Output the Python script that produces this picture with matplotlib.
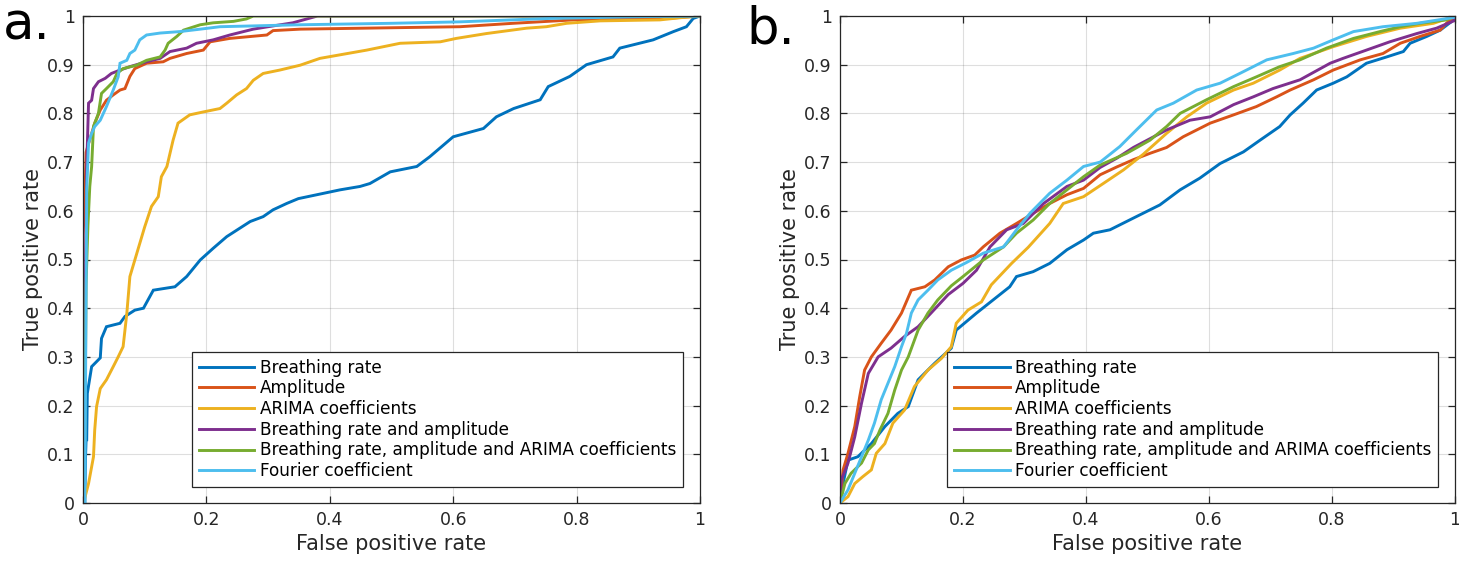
import matplotlib
matplotlib.use("Agg")
import matplotlib.pyplot as plt
from matplotlib.ticker import FuncFormatter

LABELS = [
    "Breathing rate",
    "Amplitude",
    "ARIMA coefficients",
    "Breathing rate and amplitude",
    "Breathing rate, amplitude and ARIMA coefficients",
    "Fourier coefficient",
]
COLORS = ["#0072BD", "#D95319", "#EDB120", "#7E2F8E", "#77AC30", "#4DBEEE"]

# panel a: (fpr, tpr)
a_br_x = [0, 0.003, 0.004, 0.005, 0.006, 0.007, 0.014, 0.028, 0.030, 0.038, 0.060, 0.068, 0.084, 0.098,
          0.114, 0.149, 0.168, 0.19, 0.211, 0.233, 0.271, 0.292, 0.308, 0.330, 0.349, 0.4165, 0.449,
          0.465, 0.498, 0.541, 0.562, 0.600, 0.649, 0.670, 0.698, 0.741, 0.754, 0.789, 0.816, 0.859,
          0.870, 0.924, 0.957, 0.978, 0.989, 1.0]
a_br_y = [0, 0, 0.09, 0.13, 0.13, 0.225, 0.28, 0.298, 0.338, 0.362, 0.369, 0.383, 0.396, 0.40,
          0.437, 0.444, 0.465, 0.499, 0.523, 0.547, 0.578, 0.588, 0.602, 0.615, 0.625, 0.643, 0.65,
          0.656, 0.680, 0.691, 0.711, 0.752, 0.769, 0.793, 0.810, 0.828, 0.855, 0.876, 0.900, 0.916,
          0.934, 0.951, 0.968, 0.978, 0.995, 1.0]

a_amp_x = [0, 0.0, 0.003, 0.005, 0.006, 0.019, 0.028, 0.038, 0.049, 0.060, 0.068, 0.076, 0.084, 0.103,
           0.130, 0.141, 0.168, 0.195, 0.206, 0.238, 0.298, 0.308, 0.352, 0.611, 0.697, 0.795, 0.946, 1.0]
a_amp_y = [0, 0.55, 0.62, 0.72, 0.725, 0.78, 0.807, 0.827, 0.838, 0.848, 0.851, 0.876, 0.892, 0.903,
           0.906, 0.913, 0.923, 0.930, 0.947, 0.954, 0.961, 0.970, 0.973, 0.978, 0.985, 0.992, 0.995, 1.0]

a_arima_x = [0, 0.002, 0.009, 0.017, 0.019, 0.022, 0.028, 0.038, 0.049, 0.057, 0.065, 0.071, 0.076,
             0.084, 0.092, 0.100, 0.111, 0.122, 0.127, 0.136, 0.146, 0.154, 0.173, 0.195, 0.222, 0.233,
             0.249, 0.265, 0.276, 0.292, 0.319, 0.352, 0.384, 0.460, 0.514, 0.579, 0.605, 0.654, 0.719,
             0.751, 0.784, 0.838, 0.935, 0.972, 1.0]
a_arima_y = [0, 0.006, 0.04, 0.095, 0.15, 0.198, 0.235, 0.253, 0.28, 0.30, 0.321, 0.389, 0.465,
             0.499, 0.533, 0.567, 0.609, 0.629, 0.670, 0.691, 0.745, 0.780, 0.797, 0.803, 0.810, 0.821,
             0.838, 0.851, 0.868, 0.882, 0.889, 0.899, 0.913, 0.930, 0.944, 0.947, 0.954, 0.964, 0.975,
             0.978, 0.985, 0.99, 0.992, 0.997, 1.0]

a_bra_x = [0, 0.0, 0.003, 0.006, 0.009, 0.014, 0.017, 0.025, 0.036, 0.046, 0.060, 0.076, 0.103, 0.125,
           0.141, 0.168, 0.184, 0.211, 0.238, 0.276, 0.30, 0.34, 0.36, 0.38, 1.0]
a_bra_y = [0, 0.14, 0.35, 0.69, 0.821, 0.827, 0.851, 0.865, 0.872, 0.882, 0.889, 0.896, 0.906, 0.913,
           0.927, 0.934, 0.944, 0.951, 0.961, 0.973, 0.978, 0.986, 0.993, 1.0, 1.0]

a_all_x = [0, 0.0, 0.003, 0.005, 0.008, 0.011, 0.014, 0.017, 0.025, 0.030, 0.038, 0.049, 0.055, 0.065,
           0.087, 0.103, 0.125, 0.133, 0.138, 0.152, 0.163, 0.190, 0.211, 0.244, 0.265, 0.276, 1.0]
a_all_y = [0, 0.1, 0.13, 0.45, 0.57, 0.65, 0.691, 0.773, 0.80, 0.841, 0.851, 0.865, 0.882, 0.892,
           0.899, 0.909, 0.916, 0.930, 0.944, 0.958, 0.971, 0.982, 0.986, 0.989, 0.994, 1.0, 1.0]

a_four_x = [0, 0.003, 0.006, 0.009, 0.014, 0.019, 0.028, 0.038, 0.049, 0.057, 0.060, 0.071, 0.076,
            0.084, 0.092, 0.103, 0.125, 0.157, 0.19, 0.222, 0.352, 0.5, 0.611, 0.757, 0.92, 1.0]
a_four_y = [0, 0.0, 0.643, 0.739, 0.759, 0.773, 0.786, 0.814, 0.848, 0.875, 0.903, 0.909, 0.923,
            0.930, 0.951, 0.961, 0.965, 0.968, 0.973, 0.978, 0.982, 0.985, 0.988, 0.995, 0.999, 1.0]

# panel b
b_br_x = [0, 0.005, 0.013, 0.029, 0.051, 0.073, 0.094, 0.111, 0.127, 0.154, 0.181, 0.189, 0.222, 0.249,
          0.276, 0.287, 0.314, 0.341, 0.369, 0.396, 0.412, 0.439, 0.477, 0.52, 0.553, 0.585, 0.618,
          0.656, 0.683, 0.715, 0.732, 0.753, 0.775, 0.802, 0.824, 0.856, 0.889, 0.916, 0.927, 0.954,
          0.976, 0.998, 1.0]
b_br_y = [0, 0.04, 0.088, 0.095, 0.122, 0.157, 0.184, 0.198, 0.253, 0.287, 0.318, 0.355, 0.39, 0.417,
          0.444, 0.465, 0.475, 0.492, 0.52, 0.54, 0.554, 0.561, 0.585, 0.612, 0.643, 0.667, 0.697,
          0.721, 0.745, 0.773, 0.797, 0.821, 0.848, 0.862, 0.875, 0.903, 0.916, 0.927, 0.944, 0.958,
          0.971, 0.992, 1.0]

b_amp_x = [0, 0.005, 0.013, 0.024, 0.032, 0.04, 0.051, 0.067, 0.083, 0.10, 0.116, 0.138, 0.154, 0.176,
           0.197, 0.219, 0.233, 0.26, 0.287, 0.309, 0.341, 0.369, 0.396, 0.423, 0.45, 0.477, 0.504,
           0.531, 0.558, 0.602, 0.64, 0.677, 0.71, 0.732, 0.77, 0.802, 0.846, 0.883, 0.911, 0.943,
           0.976, 0.986, 1.0]
b_amp_y = [0, 0.068, 0.102, 0.157, 0.218, 0.273, 0.30, 0.328, 0.355, 0.39, 0.437, 0.444, 0.458, 0.485,
           0.499, 0.509, 0.526, 0.554, 0.574, 0.591, 0.615, 0.633, 0.646, 0.674, 0.690, 0.705, 0.718,
           0.730, 0.752, 0.78, 0.797, 0.814, 0.834, 0.848, 0.869, 0.889, 0.91, 0.923, 0.944, 0.958,
           0.971, 0.985, 1.0]

b_arima_x = [0, 0.013, 0.024, 0.037, 0.051, 0.059, 0.073, 0.086, 0.105, 0.121, 0.143, 0.165, 0.181,
             0.189, 0.208, 0.23, 0.246, 0.279, 0.306, 0.341, 0.363, 0.396, 0.428, 0.461, 0.493, 0.531,
             0.564, 0.596, 0.64, 0.672, 0.715, 0.748, 0.802, 0.856, 0.911, 0.965, 1.0]
b_arima_y = [0, 0.013, 0.04, 0.054, 0.068, 0.102, 0.122, 0.164, 0.191, 0.239, 0.273, 0.297, 0.321,
             0.369, 0.396, 0.413, 0.448, 0.492, 0.525, 0.574, 0.615, 0.629, 0.656, 0.684, 0.716, 0.759,
             0.793, 0.821, 0.848, 0.862, 0.889, 0.913, 0.937, 0.958, 0.975, 0.985, 1.0]

b_bra_x = [0, 0.002, 0.013, 0.024, 0.035, 0.046, 0.062, 0.083, 0.105, 0.127, 0.148, 0.176, 0.2, 0.222,
           0.244, 0.271, 0.298, 0.331, 0.369, 0.396, 0.423, 0.45, 0.477, 0.531, 0.569, 0.602, 0.64,
           0.672, 0.704, 0.748, 0.797, 0.818, 0.856, 0.894, 0.938, 0.97, 0.998, 1.0]
b_bra_y = [0, 0.047, 0.082, 0.136, 0.205, 0.266, 0.30, 0.318, 0.342, 0.362, 0.39, 0.428, 0.451, 0.478,
           0.526, 0.561, 0.574, 0.615, 0.65, 0.663, 0.689, 0.708, 0.73, 0.766, 0.786, 0.793, 0.818,
           0.834, 0.851, 0.869, 0.903, 0.913, 0.93, 0.947, 0.964, 0.975, 0.99, 1.0]

b_all_x = [0, 0.008, 0.018, 0.035, 0.046, 0.056, 0.065, 0.078, 0.089, 0.10, 0.111, 0.127, 0.143, 0.159,
           0.181, 0.2, 0.233, 0.266, 0.287, 0.314, 0.341, 0.369, 0.396, 0.423, 0.466, 0.504, 0.531,
           0.553, 0.596, 0.64, 0.677, 0.715, 0.748, 0.791, 0.835, 0.878, 0.911, 0.943, 0.986, 1.0]
b_all_y = [0, 0.04, 0.061, 0.082, 0.109, 0.122, 0.15, 0.184, 0.232, 0.273, 0.30, 0.355, 0.39, 0.417,
           0.446, 0.465, 0.499, 0.526, 0.554, 0.581, 0.615, 0.643, 0.67, 0.694, 0.718, 0.745, 0.773,
           0.80, 0.828, 0.855, 0.875, 0.896, 0.91, 0.934, 0.954, 0.968, 0.978, 0.985, 0.992, 1.0]

b_four_x = [0, 0.013, 0.024, 0.035, 0.046, 0.056, 0.067, 0.078, 0.089, 0.10, 0.108, 0.116, 0.127,
            0.143, 0.159, 0.181, 0.206, 0.233, 0.266, 0.287, 0.309, 0.341, 0.369, 0.396, 0.423, 0.455,
            0.482, 0.515, 0.542, 0.58, 0.618, 0.65, 0.694, 0.737, 0.77, 0.802, 0.835, 0.883, 0.938,
            0.998, 1.0]
b_four_y = [0, 0.027, 0.061, 0.095, 0.129, 0.164, 0.212, 0.246, 0.28, 0.321, 0.348, 0.39, 0.417,
            0.437, 0.458, 0.478, 0.494, 0.513, 0.526, 0.561, 0.595, 0.636, 0.663, 0.691, 0.70, 0.732,
            0.766, 0.807, 0.821, 0.848, 0.862, 0.882, 0.91, 0.923, 0.934, 0.951, 0.968, 0.978, 0.985,
            0.997, 1.0]

PANEL_A = [(a_br_x, a_br_y), (a_amp_x, a_amp_y), (a_arima_x, a_arima_y),
           (a_bra_x, a_bra_y), (a_all_x, a_all_y), (a_four_x, a_four_y)]
PANEL_B = [(b_br_x, b_br_y), (b_amp_x, b_amp_y), (b_arima_x, b_arima_y),
           (b_bra_x, b_bra_y), (b_all_x, b_all_y), (b_four_x, b_four_y)]

W, H = 1459, 561
fig = plt.figure(figsize=(W / 100, H / 100), dpi=100)

TXT = "#262626"
ticks = [i / 10 for i in range(11)]
fmt = FuncFormatter(lambda v, _: f"{v:g}")


def draw_panel(ax, curves):
    for (xs, ys), c, lab in zip(curves, COLORS, LABELS):
        ax.plot(xs, ys, color=c, lw=2.1, label=lab, solid_joinstyle="miter")
    ax.set_xlim(0, 1)
    ax.set_ylim(0, 1)
    ax.set_xticks([0, 0.2, 0.4, 0.6, 0.8, 1])
    ax.set_yticks(ticks)
    ax.xaxis.set_major_formatter(fmt)
    ax.yaxis.set_major_formatter(fmt)
    ax.tick_params(direction="in", top=True, right=True, labelsize=12.5,
                   colors=TXT, length=5, width=0.9, pad=6)
    ax.grid(True, color="#262626", alpha=0.15, lw=0.8)
    for s in ax.spines.values():
        s.set_color(TXT)
        s.set_linewidth(0.9)
    ax.set_xlabel("False positive rate", fontsize=15, color=TXT, labelpad=3)
    ax.set_ylabel("True positive rate", fontsize=15, color=TXT, labelpad=3)
    leg = ax.legend(loc="lower right", bbox_to_anchor=(0.972, 0.033), borderaxespad=0,
                    fontsize=12.2, handlelength=3.3, handletextpad=0.3, labelspacing=0.16,
                    borderpad=0.4, fancybox=False, framealpha=1, edgecolor=TXT)
    leg.get_frame().set_linewidth(0.9)
    for t in leg.get_texts():
        t.set_color("black")


ax_a = fig.add_axes([83 / W, 58 / H, 617 / W, 487 / H])
draw_panel(ax_a, PANEL_A)
ax_b = fig.add_axes([840 / W, 58 / H, 615 / W, 487 / H])
draw_panel(ax_b, PANEL_B)

fig.text(0.002, 1 - 40 / H, "a.", fontsize=37, va="baseline", ha="left")
fig.text(746 / W, 1 - 44 / H, "b.", fontsize=37, va="baseline", ha="left")

fig.savefig("out.png", dpi=100)
